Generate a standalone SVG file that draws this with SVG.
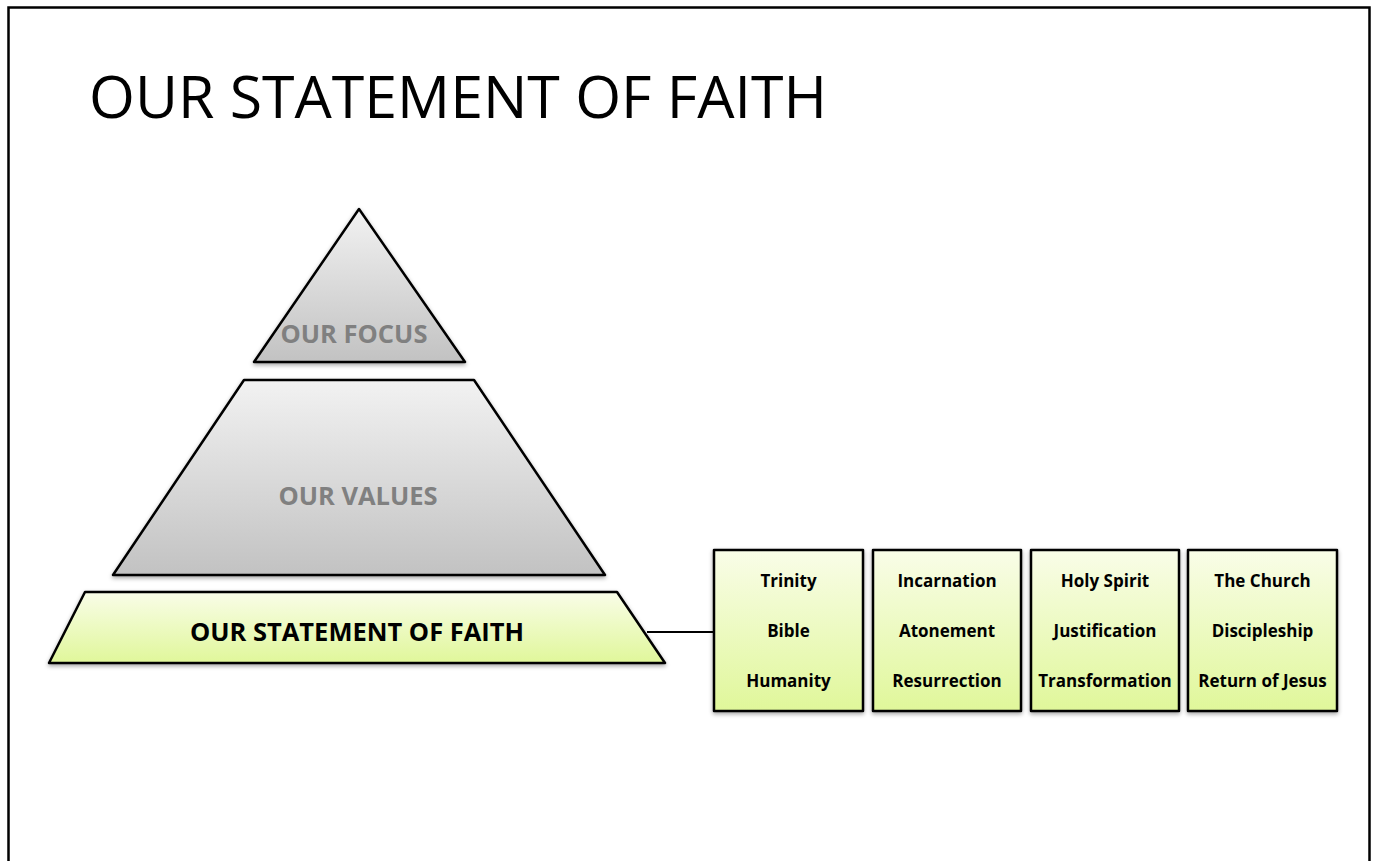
<svg xmlns="http://www.w3.org/2000/svg" width="1375" height="861" viewBox="0 0 1375 861">
<style>
.shape{stroke:#000;stroke-width:2.5;stroke-linejoin:round}
.glabel{font-family:"Open Sans","Liberation Sans",sans-serif;font-weight:bold;fill:#808080;font-size:25.5px;text-anchor:middle}
.flabel{font-family:"Open Sans","Liberation Sans",sans-serif;font-weight:bold;fill:#000;font-size:25.5px;text-anchor:middle}
.blabel{font-family:"Open Sans","Liberation Sans",sans-serif;font-weight:bold;fill:#000;font-size:17px;text-anchor:middle}
.title{font-family:"Open Sans","Liberation Sans",sans-serif;font-size:59px;fill:#000}
</style>
<defs>
<linearGradient id="grey" x1="0" y1="0" x2="0" y2="1">
<stop offset="0" stop-color="#f2f2f2"/><stop offset="1" stop-color="#c2c2c2"/>
</linearGradient>
<linearGradient id="green" x1="0" y1="0" x2="0" y2="1">
<stop offset="0" stop-color="#f9fde8"/><stop offset="1" stop-color="#e0f79a"/>
</linearGradient>
<filter id="sh" x="-10%" y="-10%" width="120%" height="130%">
<feDropShadow dx="0" dy="2" stdDeviation="2" flood-color="#000" flood-opacity="0.35"/>
</filter>
</defs>
<rect width="1375" height="861" fill="#fff"/>
<path d="M8.5 870 V7.5 H1369.5 V870" fill="none" stroke="#000" stroke-width="2.5"/>
<text class="title" x="89" y="118">OUR STATEMENT OF FAITH</text>
<g id="connectors">
<line x1="647" y1="632" x2="714" y2="632" stroke="#000" stroke-width="2"/>
</g>
<g id="focus">
<polygon class="shape" points="359,209 465,362 254,362" fill="url(#grey)" filter="url(#sh)"/>
<text class="glabel" x="354" y="343">OUR FOCUS</text>
</g>
<g id="values">
<polygon class="shape" points="244,380 474,380 605,575 113,575" fill="url(#grey)" filter="url(#sh)"/>
<text class="glabel" x="358" y="505">OUR VALUES</text>
</g>
<g id="faith">
<polygon class="shape" points="85,592 617,592 665,663 49,663" fill="url(#green)" filter="url(#sh)"/>
<text class="flabel" x="357" y="641">OUR STATEMENT OF FAITH</text>
</g>
<g id="box1">
<rect class="shape" x="714" y="550" width="149" height="161" fill="url(#green)" filter="url(#sh)"/>
<text class="blabel" x="788.5" y="587">Trinity</text>
<text class="blabel" x="788.5" y="637">Bible</text>
<text class="blabel" x="788.5" y="687">Humanity</text>
</g>
<g id="box2">
<rect class="shape" x="873" y="550" width="148" height="161" fill="url(#green)" filter="url(#sh)"/>
<text class="blabel" x="947" y="587">Incarnation</text>
<text class="blabel" x="947" y="637">Atonement</text>
<text class="blabel" x="947" y="687">Resurrection</text>
</g>
<g id="box3">
<rect class="shape" x="1031" y="550" width="148" height="161" fill="url(#green)" filter="url(#sh)"/>
<text class="blabel" x="1105" y="587">Holy Spirit</text>
<text class="blabel" x="1105" y="637">Justification</text>
<text class="blabel" x="1105" y="687">Transformation</text>
</g>
<g id="box4">
<rect class="shape" x="1188" y="550" width="149" height="161" fill="url(#green)" filter="url(#sh)"/>
<text class="blabel" x="1262.5" y="587">The Church</text>
<text class="blabel" x="1262.5" y="637">Discipleship</text>
<text class="blabel" x="1262.5" y="687">Return of Jesus</text>
</g>
</svg>
